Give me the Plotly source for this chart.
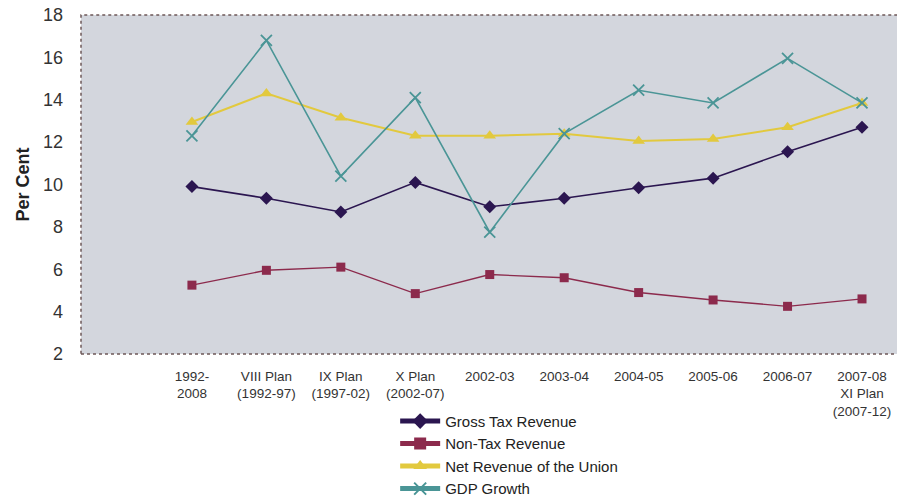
import plotly.graph_objects as go

categories = ["1992-<br>2008", "VIII Plan<br>(1992-97)", "IX Plan<br>(1997-02)", "X Plan<br>(2002-07)",
              "2002-03", "2003-04", "2004-05", "2005-06", "2006-07", "2007-08<br>XI Plan<br>(2007-12)"]
gross_tax = [9.9, 9.35, 8.7, 10.1, 8.95, 9.35, 9.85, 10.3, 11.55, 12.7]
non_tax = [5.25, 5.95, 6.1, 4.85, 5.75, 5.6, 4.9, 4.55, 4.25, 4.6]
net_revenue = [12.95, 14.3, 13.15, 12.3, 12.3, 12.4, 12.05, 12.15, 12.7, 13.85]
gdp_growth = [12.3, 16.8, 10.4, 14.1, 7.75, 12.4, 14.45, 13.85, 15.95, 13.85]
y_ticks = [2, 4, 6, 8, 10, 12, 14, 16, 18]

xs = list(range(len(categories)))
font = "Arial, Liberation Sans, sans-serif"

fig = go.Figure()
series = [
    ("Gross Tax Revenue", gross_tax, "#2b1650", "diamond", 10, 1.6),
    ("Non-Tax Revenue", non_tax, "#8c2a4c", "square", 9, 1.4),
    ("Net Revenue of the Union", net_revenue, "#e2c93e", "triangle-up", 11, 2.0),
    ("GDP Growth", gdp_growth, "#4a9596", "x-thin", 11, 1.6),
]
for name, vals, color, sym, size, w in series:
    marker = dict(symbol=sym, size=size, color=color)
    if sym == "x-thin":
        marker["line"] = dict(color=color, width=1.8)
    fig.add_trace(go.Scatter(x=xs, y=vals, name=name, mode="lines+markers",
                             line=dict(color=color, width=w), marker=marker))

fig.add_shape(type="rect", xref="paper", yref="paper", x0=0, y0=0, x1=1.002, y1=1,
              line=dict(color="#6e5858", width=1.5, dash="dot"), layer="above")

fig.update_layout(
    width=897, height=498,
    margin=dict(l=81, r=0, t=15, b=144, autoexpand=False),
    paper_bgcolor="white", plot_bgcolor="#d3d6dd",
    font=dict(family=font, color="#333333"),
    showlegend=True,
    legend=dict(x=0.385, y=-0.15, xanchor="left", yanchor="top",
                font=dict(size=15, color="#222222", family=font),
                bgcolor="rgba(0,0,0,0)", itemwidth=40, tracegroupgap=0,
                itemsizing="constant"),
    xaxis=dict(range=[-1.49, 9.47], tickmode="array", tickvals=xs, ticktext=categories,
               showgrid=False, zeroline=False, showline=False, ticks="", automargin=False,
               ticklabelstandoff=12,
               tickfont=dict(size=13.5, color="#333333"), fixedrange=True),
    yaxis=dict(range=[2, 18], tickmode="array", tickvals=y_ticks, showgrid=False,
               zeroline=False, showline=False, ticks="", automargin=False,
               ticklabelstandoff=17,
               tickfont=dict(size=18, color="#333333"),
               title=dict(text="<b>Per Cent</b>", font=dict(size=18, color="#222222"), standoff=8)),
)
fig.write_html("out.html", config={"displayModeBar": False},
               post_script="document.body.style.margin='0px';document.body.style.overflow='hidden';")
